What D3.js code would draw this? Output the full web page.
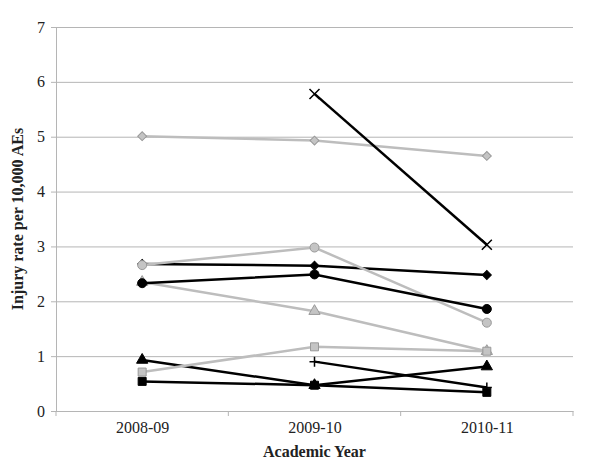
<!DOCTYPE html>
<html>
<head>
    <meta charset="utf-8">
    <title>injury rate by academic year</title>
    <style>
    body { margin: 0; background: #fff; }
    text { font-family: "Liberation Serif", "Times New Roman", serif; fill: #222; }
    .title { font-size: 16px; font-weight: bold; }
    </style>
</head>
<body>
    <script src="https://cdn.jsdelivr.net/npm/d3@7/dist/d3.min.js"></script>
    <script>

    var years = ['2008-09', '2009-10', '2010-11']
    var yTicks = [0, 1, 2, 3, 4, 5, 6, 7]

    // one array per series, null = no value that year
    var grayDiamond   = [5.01, 4.93, 4.65]
    var blackCross    = [null, 5.78, 3.03]
    var blackDiamond  = [2.68, 2.65, 2.48]
    var grayCircle    = [2.66, 2.98, 1.61]
    var grayTriangle  = [2.35, 1.82, 1.09]
    var blackCircle   = [2.33, 2.49, 1.86]
    var graySquare    = [0.71, 1.17, 1.09]
    var blackTriangle = [0.93, 0.47, 0.81]
    var blackPlus     = [null, 0.90, 0.43]
    var blackSquare   = [0.54, 0.47, 0.34]

    // drawing order matters where markers overlap
    var series = [
        {values: grayDiamond,   color: 'gray',  marker: 'diamond'},
        {values: blackCross,    color: 'black', marker: 'x'},
        {values: blackDiamond,  color: 'black', marker: 'diamond'},
        {values: grayCircle,    color: 'gray',  marker: 'circle'},
        {values: grayTriangle,  color: 'gray',  marker: 'triangle'},
        {values: blackCircle,   color: 'black', marker: 'circle'},
        {values: blackTriangle, color: 'black', marker: 'triangle'},
        {values: blackPlus,     color: 'black', marker: 'plus'},
        {values: graySquare,    color: 'gray',  marker: 'square'},
        {values: blackSquare,   color: 'black', marker: 'square'}
    ]

    var width = 600,
        height = 466,
        plotLeft = 56, plotRight = 573, plotTop = 27, plotBottom = 411

    var svg = d3.select('body').append('svg')
        .attr('width', width)
        .attr('height', height)

    var x = d3.scalePoint().domain(years).range([plotLeft, plotRight]).padding(0.5)
    var y = d3.scaleLinear().domain([0, 7]).range([plotBottom, plotTop])

    // y gridlines + labels
    var yAxis = svg.append('g')
        .attr('transform', 'translate(' + plotLeft + ',0)')
        .call(d3.axisLeft(y).tickValues(yTicks).tickFormat(d3.format('d'))
            .tickSize(-(plotRight - plotLeft)).tickSizeOuter(0).tickPadding(11))
    yAxis.select('.domain').attr('stroke', '#b5b5b5')
    yAxis.selectAll('.tick line').attr('stroke', '#b5b5b5').attr('x1', -5)
    yAxis.selectAll('.tick text').attr('fill', '#333').attr('font-size', 16)
        .attr('font-family', '"Liberation Serif", serif')

    // x axis
    var xAxis = svg.append('g')
        .attr('transform', 'translate(0,' + plotBottom + ')')
        .call(d3.axisBottom(x).tickSize(0).tickPadding(11))
    xAxis.select('.domain').attr('stroke', '#b5b5b5')
    xAxis.selectAll('.tick text').attr('fill', '#333').attr('font-size', 16)
        .attr('font-family', '"Liberation Serif", serif')

    // category boundary ticks
    var step = x.step()
    svg.append('g').selectAll('line')
        .data(d3.range(years.length + 1))
        .enter().append('line')
        .attr('x1', function(i){ return plotLeft + i * step })
        .attr('x2', function(i){ return plotLeft + i * step })
        .attr('y1', plotBottom)
        .attr('y2', plotBottom + 5)
        .attr('stroke', '#b5b5b5')

    // titles
    svg.append('text')
        .attr('class', 'title')
        .attr('x', (plotLeft + plotRight) / 2)
        .attr('y', 457)
        .attr('text-anchor', 'middle')
        .attr('fill', '#111')
        .text('Academic Year')

    svg.append('text')
        .attr('class', 'title')
        .attr('transform', 'translate(23,' + ((plotTop + plotBottom) / 2) + ') rotate(-90)')
        .attr('text-anchor', 'middle')
        .attr('fill', '#111')
        .text('Injury rate per 10,000 AEs')

    var lineColor = {gray: '#bdbdbd', black: '#000'}
    var fillColor = {gray: '#c4c4c4', black: '#000'}
    var edgeColor = {gray: '#999', black: '#000'}

    var line = d3.line()
        .defined(function(d){ return d.v != null })
        .x(function(d){ return x(d.year) })
        .y(function(d){ return y(d.v) })

    function points(s) {
        return s.values.map(function(v, i){ return {year: years[i], v: v} })
    }

    function drawMarker(sel, s) {
        var fill = fillColor[s.color], edge = edgeColor[s.color]
        if (s.marker == 'x' || s.marker == 'plus') {
            var r = 5
            var d = s.marker == 'x'
                ? 'M' + -r + ',' + -r + 'L' + r + ',' + r + 'M' + -r + ',' + r + 'L' + r + ',' + -r
                : 'M' + -r + ',0L' + r + ',0M0,' + -r + 'L0,' + r
            sel.append('path').attr('d', d).attr('stroke', edge).attr('stroke-width', 1.5).attr('fill', 'none')
            return
        }
        var path
        if (s.marker == 'circle') path = d3.symbol(d3.symbolCircle, 64)()
        else if (s.marker == 'square') path = d3.symbol(d3.symbolSquare, 64)()
        else if (s.marker == 'diamond') path = d3.symbol(d3.symbolSquare, 40)()
        else path = d3.symbol(d3.symbolTriangle, 55)()
        sel.append('path')
            .attr('d', path)
            .attr('transform', s.marker == 'diamond' ? 'rotate(45)' : null)
            .attr('fill', fill)
            .attr('stroke', edge)
            .attr('stroke-width', 1)
    }

    var g = svg.append('g')

    // each series: line, then its markers
    series.forEach(function(s){
        var sg = g.append('g')
        sg.append('path')
            .datum(points(s))
            .attr('fill', 'none')
            .attr('stroke', lineColor[s.color])
            .attr('stroke-width', 2.5)
            .attr('d', line)
        points(s).filter(function(d){ return d.v != null }).forEach(function(d){
            var m = sg.append('g').attr('transform', 'translate(' + x(d.year) + ',' + y(d.v) + ')')
            drawMarker(m, s)
        })
    })

    </script>
</body>
</html>
